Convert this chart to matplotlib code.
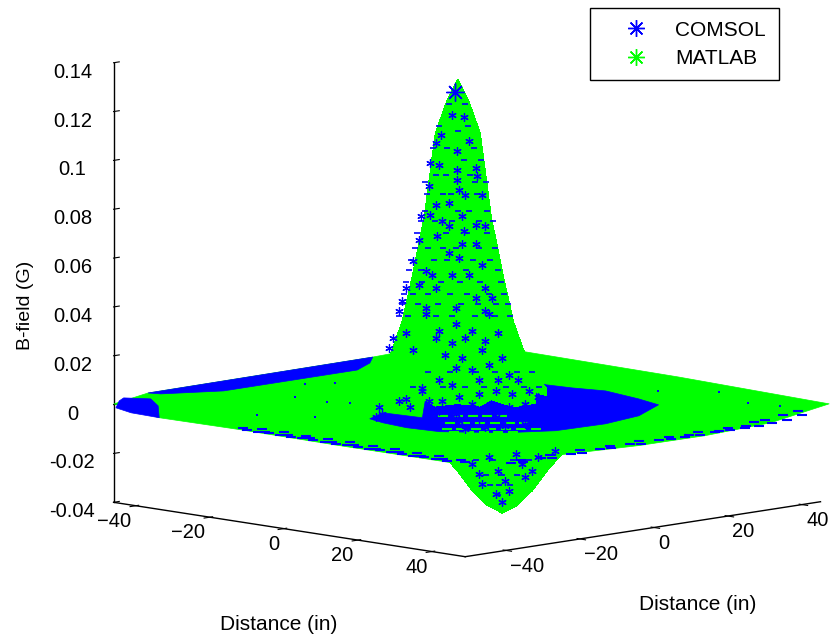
import numpy as np
import matplotlib
matplotlib.use("Agg")
from matplotlib import pyplot as plt
from matplotlib.lines import Line2D
from mpl_toolkits.mplot3d.art3d import Poly3DCollection

plt.rcParams['font.family'] = ['Liberation Sans', 'DejaVu Sans']

BLUE = "#0000ff"
GREEN = "#00ff00"
nan = float('nan')

z_ticks = [-0.04, -0.02, 0, 0.02, 0.04, 0.06, 0.08, 0.1, 0.12, 0.14]
z_labels = ["-0.04", "-0.02", "0", "0.02", "0.04", "0.06", "0.08", "0.1", "0.12", "0.14"]
dist_ticks = [-40, -20, 0, 20, 40]

# outline of the flat sheet
plate_x = [-47.1, -28.9, -7.5, 19.9, 54.7, 60.2, 60.5, 58.1, 49.5, 5.7, -41.5, -55.5, -53, -52]
plate_y = [-49.9, -55.9, -55.4, -55.9, -55.7, -15.5, 2.2, 22.3, 46.7, 49.8, 51.2, 54.5, 25.9, -35.8]

# where only COMSOL shows
corner_x = [-49, -51, -46.5, -39.4, -28.9, -37, -43.4]
corner_y = [-46.6, -43.4, -40.6, -45.7, -55.9, -55.4, -53.1]
strip_x = [-52, -53, -48.2, -43.8, -43.6, -49.5]
strip_y = [-35.8, 25.9, 20.3, 12.5, -23.8, -34.9]
ring_x = [0.5, -3, 6.7, -13.6, -7, 0.9, 8, 19.4, 27.3, 34.2, 36.7, 36, 31, 21.2, 13.2, 5.7]
ring_y = [-28.4, -21.4, -20.4, 1, 24.9, 25.9, 27.8, 25.3, 22.8, 10.6, -0.9, -13.7, -22.1, -30.2, -31.2, -30.1]

# main peak
peak_x = [-23, -20, -17, -14, -11, -8, -5, -2, 1, 4, 7, 10, 13, 16, 19]
peak_y = [-23, -20, -17, -14, -11, -8, -5, -2, 1, 4, 7, 10, 13, 16, 19]
peak_z = [
    [nan, nan, nan, nan, nan, nan, nan, nan, nan, nan, nan, nan, nan, nan, nan],
    [nan, nan, nan, nan, nan, nan, .003, .003, .003, nan, nan, nan, nan, nan, nan],
    [nan, nan, nan, nan, .004, .006, .008, .009, .008, .006, .004, nan, nan, nan, nan],
    [nan, nan, nan, .005, .009, .016, .023, .025, .023, .016, .009, .005, nan, nan, nan],
    [nan, nan, .004, .009, .020, .032, .043, .048, .043, .032, .020, .009, .004, nan, nan],
    [nan, nan, .006, .016, .032, .053, .075, .086, .075, .053, .032, .016, .006, nan, nan],
    [nan, .003, .008, .023, .043, .075, .110, .122, .110, .075, .043, .023, .008, .003, nan],
    [nan, .003, .009, .025, .048, .086, .122, .132, .122, .086, .048, .025, .009, .003, nan],
    [nan, .003, .008, .023, .043, .075, .110, .122, .110, .075, .043, .023, .008, .003, nan],
    [nan, nan, .006, .016, .032, .053, .075, .086, .075, .053, .032, .016, .006, nan, nan],
    [nan, nan, .004, .009, .020, .032, .043, .048, .043, .032, .020, .009, .004, nan, nan],
    [nan, nan, nan, .005, .009, .016, .023, .025, .023, .016, .009, .005, nan, nan, nan],
    [nan, nan, nan, nan, .004, .006, .008, .009, .008, .006, .004, nan, nan, nan, nan],
    [nan, nan, nan, nan, nan, nan, .003, .003, .003, nan, nan, nan, nan, nan, nan],
    [nan, nan, nan, nan, nan, nan, nan, nan, nan, nan, nan, nan, nan, nan, nan],
]

# dip at the front
dip_x = [21, 25, 29, 33, 37, 41, 45, 49, 53]
dip_y = [-45, -41, -37, -33, -29, -25, -21, -17, -13]
dip_z = [
    [0, 0, 0, 0, 0, 0, 0, 0, 0],
    [0, 0, -.001, -.003, -.005, -.003, -.001, 0, 0],
    [0, -.001, -.006, -.012, -.014, -.012, -.006, -.001, 0],
    [0, -.003, -.012, -.021, -.026, -.021, -.012, -.003, 0],
    [0, -.005, -.014, -.026, -.030, -.026, -.014, -.005, 0],
    [0, -.003, -.012, -.021, -.026, -.021, -.012, -.003, 0],
    [0, -.001, -.006, -.012, -.014, -.012, -.006, -.001, 0],
    [0, 0, -.001, -.003, -.005, -.003, -.001, 0, 0],
    [0, 0, 0, 0, 0, 0, 0, 0, 0],
]

# COMSOL points showing through the green
fleck_pos = [-1.2, -2.8, -4.3, -5, -0.5, -2.1, -5.7, -4.6, -2.1, 0.4, -2.1, 0.6, -5.9, -1.9, -1, 1.3, -5, -3.2,
             -7, -5.7, -4.1, -3.2, -1.4, 0.4, 1.7, -4.8, -1.2, -7.2, -1.4, 0.4, -3.2, -1.9, 1.3, -8.1, -6.3,
             -2.8, -5.5, -0.5, 1.7, -9, -7.2, -5, 0.4, 2.6, -9.5, -6.3, -2.3, 1.7,
             -9.9, -6.3, -4.5, -2.3, -0.1, 2.2, -10.8, -9, -5, -2.8, -1, 1.7, 3.5, -11.3, -8.1, -3.7, -1.4, 1.3,
             4, -2.3, -0.1, 2.2, 4.9, -4.5, -2.8, 0.8, 3.5, 6.2, -4.1, -1.9, 0.8, 3.1, 5.3, 7.6, -4.5, -2.3,
             -0.1, 2.2, 4.9, 7.1, 8.9, -1.9, 0.8, 3.1, 5.8, 8.5, -1, 1.7, 4.4, 7.1, -5.9, -6.8, -12.2, -13.1,
             -12.6, -9.9, -9, -8.4, -6.8,
             -0.1, 2.2, 5.8, 8.9, 11.1, 0.8, 3.5, 6.7, 8, 1.3, 4.4, 7.1, 3.1, 4.9, 4]
fleck_z = [.1168, .1174, .1093, .1059, .1068, .1027, .0977, .097, .095, .0957, .0909, .0923, .0882, .0868, .0848,
           .0848, .0807, .0814, .0759, .0766, .0739, .0719, .0759, .0725, .0719, .0678, .0698, .0664, .0644,
           .0644, .061, .0589, .0562, .0576, .0535, .0521, .0521, .0521, .0467, .0467, .048, .0467, .0426, .0426,
           .0412, .0385, .0385, .0372,
           .037, .036, .029, .032, .029, .036, .026, .028, .026, .024, .026, .025, .028, .022, .021, .019, .018,
           .021, .018, .014, .013, .015, .011, .009, .007, .009, .009, .009, .0004, .002, .003, .0045, .003,
           .0045, -.0037, -.005, -.001, -.0023, -.0023, -.001, .002, -.0078, -.007, -.0064, -.0057, -.0023,
           -.0112, -.0105, -.0098, -.0091, .0004, .0045, -.005, -.0064,
           -.0023, .0004, .001, -.0023, .0058,
           -.0255, -.0227, -.0214, -.0227, -.02, -.0295, -.0282, -.0255, -.0282, -.0336, -.0323, -.0309,
           -.0377, -.0364, -.0411]

dash_pos = [-3.2, -1, -4.6, -0.6, -2, -5.4, -3.5, 0.2, -1.2, 1.1, -5, -3.6, -0.3, -6.4, 0.3, 1.8, -6.1, -4, -2.9, 0.6,
            -6.4, -2, -0.5, 2, -7, -5.1, -2.8, 0.9, 2.7, -7.5, -3.6, -0.8, 2, -7.8, -6, -4, -2.2, 0.9, 3,
            -8.3, -5.2, -3.4, 0.1, 2.4, -8.6, -7, -0.9, 3.5, -9, -6.9, -4.2, -1.7, 1, 3.9,
            -9.3, -8, -6, -3, -0.7, 2.2, 4.3, -9.6, -7.4, -4.7, -1.5, 0.7, 3.1, 4.8, -10, -8.7, -5, -2.8, 0.3, 3, 5,
            -6, -3, 0.5, 3, 6, 8, -8, -4, -1, 1.5, 4.5, 7, 9, -3, -1, 2, 5, 8, -2.8, -0.4, 1.2, 3.6, 6.3,
            -1.8, 0.3, 2.7, 5, 0.5, 2.8, 5.4, 7.6, 1.8, 4, 6, 2.4, 3.6, 5, 3.4]
dash_z = [.122, .122, .113, .113, .111, .104, .104, .104, .099, .099, .093, .093, .093, .09, .09, .09, .085, .085, .085, .085,
          .078, .078, .078, .078, .074, .074, .074, .074, .074, .069, .069, .069, .069, .063, .063, .063, .063, .063, .063,
          .058, .058, .058, .058, .058, .054, .054, .054, .054, .049, .049, .049, .049, .049, .049,
          .044, .044, .044, .044, .044, .044, .044, .04, .04, .04, .04, .04, .04, .04, .035, .035, .035, .035, .035, .035, .035,
          .012, .012, .012, .012, .012, .012, .006, .006, .006, .006, .006, .006, .006, -.003, -.003, -.003, -.003, -.003,
          -.007, -.007, -.007, -.007, -.007, -.01, -.01, -.01, -.01, -.024, -.024, -.024, -.024, -.03, -.03, -.03,
          -.034, -.034, -.034, -.038]

# MATLAB points over the blue under the peak
cover_pos = [-4, -2, 0, 2, 4, -3, -1, 1, 3, 5, 7, -3.5, -1.5, 0.5, 2.5, 4.5, 6.5, 8.5, -2.5, -0.5, 1.5, 3.5, 5.5]
cover_z = [-.006, -.006, -.006, -.006, -.006, -.0085, -.0085, -.0085, -.0085, -.0085, -.0085,
           -.011, -.011, -.011, -.011, -.011, -.011, -.011, -.0125, -.0125, -.0125, -.0125, -.0125]

# blue along the front edges of the sheet
edge_x = [-8, -5, -2, 1, 4, 7, 10, 13, 16, 19, 22, 25, 28, 31, 34, 37, 40, 43, 46, 49, 52,
          -6, -3, 0, 3, 6, 9, 12, 15, 18, 21, 24, 27, 30, 33, 36, 39, 42, 45, 48,
          58.5, 57, 58.5, 57, 58.5, 57, 58.5, 57, 58.5, 57, 58.5, 57, 58.5, 57, 58.5, 57, 58, 56, 55, 54, 52,
          59.5, 59.5, 59.5, 59.5, 59.5, 59.5, 59.5, 59.5, 59.5, 59.5, 59.5, 59.5, 59, 58, 56]
edge_y = [-54, -52, -54, -52, -54, -52, -54, -52, -54, -52, -54, -52, -54, -52, -54, -52, -54, -52, -54, -52, -54,
          -55, -55, -55, -55, -55, -55, -55, -55, -55, -55, -55, -55, -55, -55, -55, -55, -55, -55, -55,
          -48, -44, -40, -36, -32, -28, -24, -20, -16, -12, -8, -4, 0, 4, 8, 12, 16, 20, 24, 30, 36,
          -46, -38, -30, -22, -14, -6, -2, 2, 6, 10, 14, 18, 22, 27, 33]

# lone blue points on the sheet
dot_x = [-38.6, -34.5, -27.9, -19.1, -15.2, -17.3, -7.8, 16, 25.2, 38.5, 45.5]
dot_y = [-6.8, -2.6, -20.2, -20.1, -18, -41, -34.9, 34, 41.5, 35.8, 37.6]

apex_pos = [-2.4]
apex_z = [0.127]


def flat_patch(ax, xs, ys, color, order):
	verts = [list(zip(xs, ys, [0] * len(xs)))]
	p = Poly3DCollection(verts, facecolor=color, edgecolor=color, linewidth=0.5, zorder=order)
	p.set_clip_on(False)
	ax.add_collection3d(p)


def main():
	fig = plt.figure(figsize=(8.38, 6.40), dpi=100)
	ax = fig.add_axes([0.047, 0.0455, 1.0, 1.0], projection='3d', proj_type='ortho', computed_zorder=False)
	ax.view_init(elev=8.9, azim=-45)
	ax.set_box_aspect((95, 96, 85), zoom=1.267)
	ax.set_xlim(-46, 49)
	ax.set_ylim(-51, 45)
	ax.set_zlim(-0.04, 0.14)
	ax.patch.set_alpha(0)

	# dip first, then the sheet, then the bits of blue, then the peak
	dx, dy = np.meshgrid(dip_x, dip_y)
	s = ax.plot_surface(dx, dy, np.array(dip_z), color=GREEN, shade=False, linewidth=0.4,
		edgecolor=GREEN, antialiased=False, zorder=1)
	s.set_clip_on(False)
	flat_patch(ax, plate_x, plate_y, GREEN, 2)
	flat_patch(ax, corner_x, corner_y, BLUE, 3)
	flat_patch(ax, strip_x, strip_y, BLUE, 3)
	flat_patch(ax, ring_x, ring_y, BLUE, 3)
	px, py = np.meshgrid(peak_x, peak_y)
	ax.plot_surface(px, py, np.array(peak_z), color=GREEN, shade=False, linewidth=0.4,
		edgecolor=GREEN, antialiased=False, zorder=4)

	ax.plot(cover_pos, cover_pos, cover_z, ls='', marker='_', ms=7, mew=1.5, color=GREEN, zorder=4.5)
	ax.plot(fleck_pos, fleck_pos, fleck_z, ls='', marker=(6, 2, 0), ms=6, mew=0.9, color=BLUE, zorder=5)
	ax.plot(dash_pos, dash_pos, dash_z, ls='', marker='_', ms=5, mew=1.2, color=BLUE, zorder=5)
	ax.plot(edge_x, edge_y, [0] * len(edge_x), ls='', marker='_', ms=7, mew=1.5, color=BLUE, zorder=5, clip_on=False)
	ax.plot(dot_x, dot_y, [0] * len(dot_x), ls='', marker='s', ms=1.5, mew=0, color=BLUE, zorder=5, clip_on=False)
	ax.plot(apex_pos, apex_pos, apex_z, ls='', marker=(8, 2, 0), ms=13, mew=1.0, color=BLUE, zorder=5)

	for a in (ax.xaxis, ax.yaxis, ax.zaxis):
		a.pane.set_visible(False)
		a.line.set_color('k')
		a.line.set_linewidth(1.0)
	ax.grid(False)
	ax.set_xticks(dist_ticks)
	ax.set_yticks(dist_ticks)
	ax.set_zticks(z_ticks)
	ax.set_zticklabels(z_labels)
	ax.zaxis.set_ticks_position('lower')
	ax.zaxis._axinfo['tick']['inward_factor'] = 0
	ax.zaxis._axinfo['tick']['outward_factor'] = 0.2
	ax.tick_params(axis='x', labelsize=14.5, pad=-5)
	ax.tick_params(axis='y', labelsize=14.5, pad=-5)
	ax.tick_params(axis='z', labelsize=14.5, pad=6)
	for t in ax.xaxis.get_major_ticks():
		t.label1.set_ha('right')
	for t in ax.yaxis.get_major_ticks():
		t.label1.set_ha('left')

	fig.text(25 / 838, 1 - 305 / 640, "B-field (G)", rotation=90, ha='center', va='center', fontsize=14)
	fig.text(279 / 838, 1 - 625 / 640, "Distance (in)", ha='center', va='center', fontsize=15)
	fig.text(698 / 838, 1 - 604 / 640, "Distance (in)", ha='center', va='center', fontsize=15)

	handles = [
		Line2D([], [], ls='', marker=(8, 2, 0), ms=12, mew=1.0, color=BLUE),
		Line2D([], [], ls='', marker=(8, 2, 0), ms=12, mew=1.0, color=GREEN),
	]
	fig.legend(handles, ["COMSOL", "MATLAB"], loc='upper left', bbox_to_anchor=(590 / 838, 1 - 8 / 640),
		fontsize=15, fancybox=False, edgecolor='k', framealpha=1, borderaxespad=0, borderpad=0.6,
		handlelength=3.2, handletextpad=0.3, labelspacing=0.45)
	fig.savefig("out.png", dpi=100)


if __name__ == '__main__':
	main()
